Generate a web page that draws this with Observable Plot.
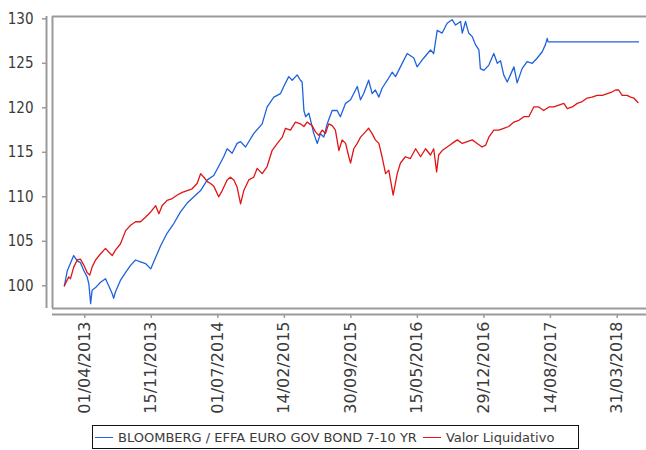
<!DOCTYPE html>
<html><head><meta charset="utf-8">
<script src="https://cdn.jsdelivr.net/npm/d3@7"></script>
<script src="https://cdn.jsdelivr.net/npm/@observablehq/plot@0.6"></script>
<style>
body{margin:0;background:#fff;width:646px;height:450px;overflow:hidden;position:relative;}
#legend{position:absolute;left:92px;top:425px;width:487px;height:24px;border:1px solid #111;box-sizing:border-box;font:13px "DejaVu Sans",sans-serif;color:#3a3a3a;display:flex;align-items:center;white-space:nowrap;}
.sw{display:inline-block;width:18px;height:0;border-top:1.5px solid;margin:0 5px 0 2px;}
</style></head>
<body><div id="chart"></div><div id="legend"></div>
<script>
const seriesNames = ["BLOOMBERG / EFFA EURO GOV BOND 7-10 YR", "Valor Liquidativo"];
const seriesColors = ["#1f62dc", "#e01515"];

const blueDates = ["2013-01-21","2013-01-31","2013-02-22","2013-03-06","2013-03-17","2013-03-29","2013-04-09","2013-04-15","2013-04-21","2013-04-26","2013-05-08","2013-05-25","2013-06-11","2013-06-22","2013-07-04","2013-07-09","2013-07-15","2013-08-01","2013-08-19","2013-09-05","2013-09-22","2013-10-09","2013-10-26","2013-11-13","2013-11-30","2013-12-17","2014-01-08","2014-01-31","2014-02-23","2014-03-18","2014-04-10","2014-05-03","2014-05-26","2014-06-17","2014-07-10","2014-07-21","2014-08-02","2014-08-19","2014-09-05","2014-09-17","2014-10-04","2014-11-01","2014-11-30","2014-12-17","2015-01-09","2015-02-01","2015-02-12","2015-03-01","2015-03-13","2015-03-30","2015-04-10","2015-04-16","2015-04-22","2015-04-28","2015-05-09","2015-05-26","2015-06-07","2015-06-18","2015-06-29","2015-07-11","2015-07-28","2015-08-14","2015-08-25","2015-09-12","2015-09-29","2015-10-10","2015-10-22","2015-11-02","2015-11-13","2015-11-30","2015-12-12","2015-12-23","2016-01-04","2016-01-15","2016-02-02","2016-02-19","2016-03-01","2016-03-18","2016-04-10","2016-05-03","2016-05-14","2016-06-06","2016-06-29","2016-07-10","2016-07-22","2016-08-08","2016-08-25","2016-09-11","2016-09-23","2016-10-10","2016-10-16","2016-10-27","2016-11-07","2016-11-19","2016-11-30","2016-12-12","2016-12-17","2016-12-29","2017-01-15","2017-02-01","2017-02-13","2017-02-24","2017-03-07","2017-03-19","2017-03-30","2017-04-11","2017-04-22","2017-05-09","2017-05-26","2017-06-13","2017-06-30","2017-07-17","2017-07-28","2017-08-03","2017-08-06","2018-06-12"];
const blueValues = [100.0,101.7,103.4,102.8,102.6,101.7,101.0,100.2,98.0,99.5,99.8,100.4,100.8,100.0,99.1,98.6,99.3,100.6,101.5,102.3,102.9,102.7,102.5,101.9,103.2,104.5,105.9,107.0,108.3,109.3,110.0,110.7,111.9,112.4,113.8,114.5,115.4,114.9,116.0,116.2,115.6,117.1,118.2,120.1,121.2,121.6,122.4,123.5,123.1,123.7,123.1,122.9,119.7,119.0,119.4,117.1,116.0,117.1,116.7,118.2,119.7,119.7,119.0,120.5,120.9,121.6,122.4,120.9,121.6,123.1,121.6,122.0,121.2,122.2,123.1,124.0,123.5,124.6,126.1,125.6,124.6,125.6,126.5,126.1,128.7,128.4,129.5,129.9,129.3,129.7,128.4,129.7,128.4,128.0,127.1,126.5,124.4,124.2,124.8,126.1,125.0,125.3,123.7,122.9,123.7,124.6,122.8,124.4,125.2,125.0,125.6,126.3,127.1,127.8,127.4,127.4];

const redDates = ["2013-01-21","2013-02-05","2013-02-11","2013-02-22","2013-03-06","2013-03-17","2013-03-29","2013-04-09","2013-04-18","2013-04-26","2013-05-08","2013-05-25","2013-06-11","2013-06-22","2013-07-04","2013-07-15","2013-08-01","2013-08-19","2013-09-05","2013-09-22","2013-10-09","2013-10-26","2013-11-13","2013-11-30","2013-12-11","2013-12-22","2014-01-08","2014-01-26","2014-02-12","2014-03-01","2014-03-18","2014-04-04","2014-04-21","2014-05-03","2014-05-14","2014-05-26","2014-06-06","2014-06-17","2014-07-04","2014-07-16","2014-08-02","2014-08-13","2014-08-25","2014-09-05","2014-09-17","2014-09-28","2014-10-15","2014-11-01","2014-11-13","2014-11-30","2014-12-17","2015-01-03","2015-01-21","2015-02-07","2015-02-18","2015-03-07","2015-03-24","2015-04-10","2015-04-22","2015-05-03","2015-05-20","2015-06-01","2015-06-12","2015-06-24","2015-07-05","2015-07-16","2015-07-28","2015-08-08","2015-08-20","2015-08-31","2015-09-12","2015-09-23","2015-09-29","2015-10-10","2015-10-22","2015-11-02","2015-11-19","2015-11-30","2015-12-12","2015-12-23","2016-01-04","2016-01-15","2016-01-27","2016-02-07","2016-02-22","2016-03-07","2016-03-18","2016-04-04","2016-04-21","2016-05-09","2016-05-26","2016-06-12","2016-06-29","2016-07-10","2016-07-20","2016-07-27","2016-08-08","2016-08-25","2016-09-11","2016-09-29","2016-10-16","2016-11-02","2016-11-19","2016-12-06","2016-12-23","2017-01-04","2017-01-15","2017-02-01","2017-02-18","2017-03-07","2017-03-24","2017-04-11","2017-04-28","2017-05-15","2017-06-01","2017-06-18","2017-07-05","2017-07-22","2017-08-09","2017-08-26","2017-09-12","2017-09-29","2017-10-11","2017-10-28","2017-11-14","2017-12-01","2017-12-18","2018-01-04","2018-01-21","2018-02-08","2018-02-25","2018-03-14","2018-03-26","2018-04-05","2018-04-17","2018-05-04","2018-05-16","2018-05-27","2018-06-10"];
const redValues = [100.0,101.0,100.8,102.1,102.9,103.0,102.3,101.5,101.2,102.1,102.9,103.6,104.2,103.8,103.4,104.0,104.7,106.2,106.8,107.2,107.2,107.7,108.3,109.0,108.1,109.0,109.6,109.8,110.2,110.5,110.7,110.9,111.5,112.6,112.2,111.7,111.5,111.2,110.0,110.7,111.9,112.2,111.9,111.1,109.2,110.7,111.9,112.2,113.2,112.6,113.4,115.2,116.0,116.7,117.7,117.5,118.4,118.2,117.9,118.4,118.0,117.3,116.9,117.5,117.1,118.2,118.0,117.5,115.2,116.4,116.0,114.5,113.8,115.4,116.0,116.7,117.3,117.7,117.1,116.4,116.0,114.5,112.6,113.0,110.2,112.6,113.8,114.5,114.3,115.4,114.5,115.4,114.7,115.4,112.8,114.7,115.2,115.6,116.0,116.4,116.0,116.2,116.4,116.0,115.6,115.8,116.7,117.5,117.5,117.7,117.9,118.4,118.6,119.0,119.0,120.1,120.1,119.7,120.1,120.1,120.3,120.5,119.9,120.1,120.5,120.7,121.1,121.2,121.4,121.4,121.6,121.8,122.0,122.0,121.4,121.4,121.2,121.1,120.6];

const yTicks = [100, 105, 110, 115, 120, 125, 130];
const xTickLabels = ["01/04/2013","15/11/2013","01/07/2014","14/02/2015","30/09/2015","15/05/2016","29/12/2016","14/08/2017","31/03/2018"];

const parseISO = d3.utcParse("%Y-%m-%d");
const parseDMY = d3.utcParse("%d/%m/%Y");
const rows = [
  ...blueDates.map((d, i) => ({date: parseISO(d), value: blueValues[i], series: seriesNames[0]})),
  ...redDates.map((d, i) => ({date: parseISO(d), value: redValues[i], series: seriesNames[1]}))
];
const xTicks = xTickLabels.map(parseDMY);

const xDomain = [new Date(Date.UTC(2012, 11, 11, 7)), new Date(Date.UTC(2018, 6, 9, 10))];
const yDomain = [97.45, 130.26];
const gray = "#9a9a9a";

const chart = Plot.plot({
  width: 646,
  height: 422,
  marginLeft: 52,
  marginRight: 0,
  marginTop: 16,
  marginBottom: 114,
  style: {background: "#fff", overflow: "visible"},
  x: {type: "utc", domain: xDomain},
  y: {domain: yDomain},
  color: {domain: seriesNames, range: seriesColors},
  marks: [
    Plot.ruleY([yDomain[1]], {stroke: gray, strokeWidth: 2}),
    Plot.ruleY([yDomain[0]], {stroke: gray, strokeWidth: 2}),
    Plot.ruleX([xDomain[0]], {stroke: gray, strokeWidth: 2}),
    Plot.ruleX([xDomain[0]], {y1: yDomain[0], y2: yDomain[1], dx: -6, stroke: gray, strokeWidth: 2}),
    Plot.ruleY([yDomain[0]], {x1: xDomain[0], x2: xDomain[1], dy: 6, stroke: gray, strokeWidth: 2}),
    Plot.axisY({ticks: yTicks, tickSize: 4, tickPadding: 9, dx: -6, stroke: gray, strokeWidth: 1.5, fill: "#3a3a3a", fontSize: 15, fontFamily: "'DejaVu Sans Condensed', 'DejaVu Sans', sans-serif", label: null}),
    Plot.axisX({ticks: xTicks, tickFormat: d3.utcFormat("%d/%m/%Y"), tickRotate: -90, tickSize: 4, tickPadding: 3, dy: 6, stroke: gray, strokeWidth: 1.5, fill: "#3a3a3a", fontSize: 16, fontFamily: "'DejaVu Sans', sans-serif", label: null}),
    Plot.lineY(rows, {x: "date", y: "value", z: "series", stroke: "series", strokeWidth: 1.3})
  ]
});
document.getElementById("chart").append(chart);

const legend = document.getElementById("legend");
seriesNames.forEach((name, i) => {
  const sw = document.createElement("span");
  sw.className = "sw";
  sw.style.borderTopColor = seriesColors[i];
  if (i > 0) sw.style.marginLeft = "6px";
  const t = document.createElement("span");
  t.textContent = name;
  legend.append(sw, t);
});
</script>
</body></html>
